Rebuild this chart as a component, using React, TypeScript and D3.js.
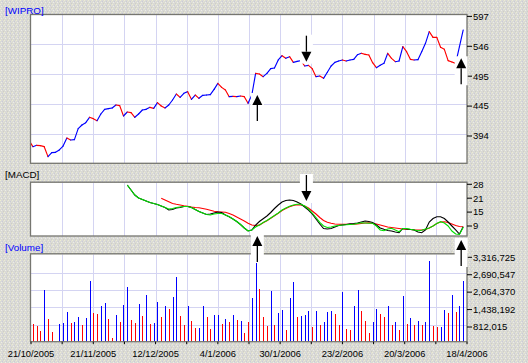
import React from "react";
import * as d3 from "d3";

// ---------- DATA ----------
// closing prices; first value is the session before the first volume bar
const closes = [
  386.1, 375.9, 378.2, 377.6, 375.9, 359.0, 365.7, 366.3, 370.3, 377.0,
  390.6, 387.2, 387.8, 406.4, 412.7, 416.6, 425.7, 423.4, 420.0, 431.3,
  439.2, 440.4, 441.5, 446.6, 445.5, 427.9, 434.7, 433.6, 425.7, 431.3,
  438.1, 439.2, 442.6, 440.9, 450.5, 444.9, 441.5, 446.6, 455.0, 465.2,
  459.6, 466.4, 469.2, 456.2, 463.5, 457.9, 463.0, 463.5, 464.1, 473.1,
  483.3, 476.5, 472.0, 460.7, 461.3, 460.7, 461.8, 460.7, 449.4, 463.5,
  500.3, 499.1, 494.6, 500.3, 508.2, 509.3, 522.9, 530.2, 525.7, 528.5,
  518.9, 520.6, 521.8, 512.7, 513.8, 508.2, 494.6, 495.7, 491.8, 502.0,
  512.7, 518.9, 521.2, 522.9, 521.2, 522.9, 524.0, 531.9, 534.2, 532.5,
  531.4, 518.4, 509.9, 513.8, 517.2, 534.2, 525.7, 520.0, 521.2, 545.5,
  537.0, 524.0, 522.9, 523.4, 537.0, 551.1, 570.9, 561.3, 561.3, 544.4,
  541.0, 521.8, 519.5, 517.2, 545.5, 573.8,
];

const volumes = [
  920000, 848000, 668000, 2142000, 1099000, 632000, 150000, 920000, 956000, 1351000,
  956000, 992000, 1171000, 884000, 1135000, 2465000, 1315000, 1279000, 1567000, 1674000,
  1099000, 417000, 1243000, 992000, 1603000, 2249000, 1064000, 956000, 1639000, 1207000,
  1962000, 920000, 956000, 1710000, 1171000, 1567000, 1459000, 1890000, 2620000, 1207000,
  884000, 1567000, 1028000, 776000, 776000, 1567000, 1171000, 740000, 1243000, 1243000,
  920000, 1099000, 992000, 1243000, 1064000, 1028000, 596000, 992000, 1854000, 3148000,
  2178000, 1171000, 848000, 2106000, 884000, 1315000, 1423000, 704000, 1854000, 2429000,
  1171000, 1207000, 1243000, 1387000, 812000, 1387000, 884000, 992000, 1351000, 1387000,
  1279000, 884000, 2070000, 740000, 704000, 1567000, 2142000, 1387000, 1028000, 596000,
  992000, 1459000, 1279000, 1171000, 1567000, 884000, 992000, 704000, 1926000, 920000,
  1135000, 884000, 1028000, 884000, 992000, 3184000, 848000, 812000, 812000, 1423000,
  1315000, 1962000, 1351000, 1567000, 2465000,
];

// session direction (close vs open) for each volume bar
const sessionDir =
  "DDDUDDDUUU" + "DUUDUUDDUU" + "DDUDUUDDUD" + "UDUUDUDUU" +
  "DDUDDUUDDU" + "UDUDUDUDDU" + "UDDDUDUUDU" + "UDUUUDUDU" +
  "UUDDUDDUUD" + "DDUUDDUDUD" + "UDUDUDUUDD" + "UUDUDUU";

const macdStart = 25; // first session with the MACD line
const macdLine = [
  27.39, 25.12, 22.85, 21.49, 20.81, 20.13, 19.45, 19.0, 18.55, 17.87,
  17.19, 16.05, 16.28, 16.96, 17.19, 17.64, 17.64, 17.19, 16.28, 15.37,
  14.69, 14.01, 14.24, 14.69, 15.15, 14.92, 13.79, 13.02, 11.97, 10.84,
  9.48, 7.89, 6.53, 6.99, 9.25, 10.84, 12.06, 13.33, 14.92, 16.73,
  18.32, 19.68, 20.36, 20.59, 20.36, 19.68, 18.77, 17.41, 16.05, 14.24,
  11.97, 9.71, 7.67, 7.44, 7.67, 8.35, 9.03, 9.25, 9.48, 9.8,
  9.93, 10.16, 10.61, 11.07, 10.84, 10.39, 9.25, 7.89, 7.3, 6.76,
  6.53, 6.08, 5.76, 7.67, 7.44, 7.21, 6.99, 6.08, 5.76, 6.99,
  10.61, 12.2, 13.02, 13.02, 12.2, 10.61, 8.8, 6.99, 5.17, 8.48,
];
const triggerLine = [
  27.39, 25.12, 22.85, 21.49, 20.81, 20.13, 19.45, 19.0, 18.55, 17.87,
  17.19, 16.51, 16.73, 17.19, 17.41, 17.64, 17.64, 17.19, 16.28, 15.37,
  14.69, 14.01, 13.79, 14.24, 14.47, 14.47, 13.79, 13.02, 11.97, 10.84,
  9.48, 7.89, 6.53, 6.99, 8.35, 9.25, 10.39, 11.29, 12.43, 13.56,
  14.69, 16.05, 16.96, 17.73, 18.32, 18.64, 18.64, 17.87, 16.51, 14.69,
  12.65, 10.48, 8.8, 8.12, 8.35, 8.8, 9.03, 9.25, 9.34, 9.48,
  9.57, 9.93, 10.25, 10.16, 10.02, 10.02, 8.8, 6.99, 6.67, 7.44,
  7.76, 6.99, 6.22, 7.67, 7.67, 7.3, 6.99, 6.67, 6.85, 7.44,
  7.89, 8.8, 9.93, 10.75, 10.16, 8.8, 6.53, 5.17, 4.95, 8.21,
];
const slowStart = 34;
const slowLine = [
  21.36, 20.59, 19.82, 19.0, 18.64, 18.32, 18.0, 17.73, 17.41, 17.19,
  17.1, 16.73, 16.37, 15.96, 15.51, 15.28, 15.15, 15.01, 14.47, 13.79,
  12.88, 11.97, 11.07, 10.07, 9.25, 9.03, 9.2, 10.25, 11.2, 12.29,
  13.42, 14.56, 15.83, 16.73, 17.5, 18.09, 18.41, 18.32, 17.87, 16.96,
  15.6, 14.24, 12.65, 11.29, 10.48, 10.02, 9.71, 9.57, 9.57, 9.57,
  9.57, 9.57, 9.71, 9.93, 10.16, 10.25, 9.93, 9.71, 9.25, 8.8,
  8.35, 8.12, 7.89, 7.67, 7.44, 7.3, 7.21, 7.08, 6.99, 6.99,
  7.21, 7.89, 8.8, 9.93, 10.61, 10.75, 10.39, 9.71, 9.03, 8.57,
  8.48,
];

const signalSessions = [58, 71, 112];
const signalTypes = ["buy", "sell", "buy"];
const signalPrices = [463.5, 520.0, 525.8];

const priceTicks = [596.8, 546.1, 495.4, 444.7, 394.0];
const macdTicks = [27.7, 21.4, 15.1, 8.8];
const volumeTicks = [3316725, 2690547, 2064370, 1438192, 812015];
const dateLabels = [
  "21/10/2005", "21/11/2005", "12/12/2005", "4/1/2006",
  "30/1/2006", "23/2/2006", "20/3/2006", "18/4/2006",
];

// ---------- LAYOUT ----------
const W = 528;
const H = 363;
const X0 = 31;
const X1 = 467;
const P = { top: 15, bottom: 163.3 };
const M = { top: 182.7, bottom: 236 };
const V = { top: 254.3, bottom: 341.7 };
const GRID_SHIFT = -2.2;
const FONT = "'Liberation Sans', Arial, sans-serif";
const BLUE = "#0000ff";
const RED = "#ff0000";
const GRID = "#d4d4f2";
const FRAME = "#767670";

const xs = d3.scaleLinear().domain([-0.5, 115]).range([X0, X1]);
const yPrice = d3.scaleLinear().domain([394, 596.8]).range([136, 16.4]);
const yMacd = d3.scaleLinear().domain([8.8, 27.7]).range([226, 184.3]);
const yVol = d3.scaleLinear().domain([812015, 3316725]).range([327, 257.3]);

const gridDomain = d3.range(15).map((i) => -0.5 + (i * 115.5) / 14);

function Arrow({ cx, tip, up }: { cx: number; tip: number; up: boolean }) {
  const s = up ? 1 : -1;
  const boxY = up ? tip - 2 : tip - 27;
  return (
    <g>
      <rect x={cx - 6.5} y={boxY} width={13} height={29} fill="#ffffff" />
      <path
        d={`M${cx},${tip} L${cx - 5},${tip + s * 10} L${cx + 5},${tip + s * 10} Z`}
        fill="#000"
      />
      <line x1={cx} x2={cx} y1={tip + s * 10} y2={tip + s * 26} stroke="#000" strokeWidth={1.3} />
    </g>
  );
}

function seriesPath(vals: number[], start: number) {
  const line = d3
    .line<number>()
    .x((_, i) => xs(start + i))
    .y((v) => yMacd(v));
  return line(vals) || "";
}

export default function App() {
  const priceSegs = closes.slice(1).map((c, i) => {
    const prev = closes[i];
    return {
      x1: xs(i - 1),
      y1: yPrice(prev),
      x2: xs(i),
      y2: yPrice(c),
      color: c > prev ? BLUE : RED,
    };
  });

  const volBottomVal = yVol.invert(V.bottom);

  return (
    <svg
      width={W}
      height={H}
      style={{ position: "absolute", left: 0, top: 0, display: "block" }}
      fontFamily={FONT}
    >
      <defs>
        <pattern id="bgtex" width={4} height={4} patternUnits="userSpaceOnUse">
          <rect width={4} height={4} fill="#d9d9d6" />
          <rect x={0} y={0} width={1} height={1} fill="#ececd2" />
          <rect x={2} y={1} width={1} height={1} fill="#cacad8" />
          <rect x={1} y={2} width={1} height={1} fill="#eeeee2" />
          <rect x={3} y={3} width={1} height={1} fill="#d0d0c2" />
          <rect x={3} y={1} width={1} height={1} fill="#e4e4d0" />
        </pattern>
        <clipPath id="clipPrice">
          <rect x={X0} y={P.top} width={X1 - X0} height={P.bottom - P.top} />
        </clipPath>
        <clipPath id="clipMacd">
          <rect x={X0} y={M.top} width={X1 - X0} height={M.bottom - M.top} />
        </clipPath>
      </defs>

      <rect width={W} height={H} fill="url(#bgtex)" />

      {/* panel backgrounds */}
      {[P, M, V].map((p, i) => (
        <rect key={i} x={X0} y={p.top} width={X1 - X0} height={p.bottom - p.top} fill="#fff" />
      ))}

      {/* vertical gridlines */}
      {gridDomain.slice(1, -1).map((d, i) =>
        [P, M, V].map((p, j) => (
          <line
            key={`vg${i}-${j}`}
            x1={Math.round(xs(d)) + 0.5}
            x2={Math.round(xs(d)) + 0.5}
            y1={p.top}
            y2={p.bottom}
            stroke={GRID}
            strokeWidth={1}
          />
        ))
      )}
      {/* horizontal gridlines */}
      {priceTicks.slice(1).map((t, i) => (
        <line
          key={`hp${i}`}
          x1={X0}
          x2={X1}
          y1={Math.round(yPrice(t) + GRID_SHIFT) + 0.5}
          y2={Math.round(yPrice(t) + GRID_SHIFT) + 0.5}
          stroke={GRID}
        />
      ))}
      {volumeTicks.slice(1).map((t, i) => (
        <line
          key={`hv${i}`}
          x1={X0}
          x2={X1}
          y1={Math.round(yVol(t) + GRID_SHIFT) + 0.5}
          y2={Math.round(yVol(t) + GRID_SHIFT) + 0.5}
          stroke={GRID}
        />
      ))}

      {/* price line */}
      <g clipPath="url(#clipPrice)">
        {priceSegs.map((s, i) => (
          <line
            key={`ps${i}`}
            x1={s.x1}
            y1={s.y1}
            x2={s.x2}
            y2={s.y2}
            stroke={s.color}
            strokeWidth={1.15}
            strokeLinecap="round"
          />
        ))}
      </g>

      {/* MACD lines */}
      <g clipPath="url(#clipMacd)" fill="none" strokeWidth={1.1}>
        <path d={seriesPath(slowLine, slowStart)} stroke={RED} />
        <path d={seriesPath(macdLine, macdStart)} stroke="#000" />
        <path d={seriesPath(triggerLine, macdStart)} stroke="#00e000" />
      </g>

      {/* volume bars */}
      {volumes.map((v, i) => {
        if (v <= volBottomVal) return null;
        const y = yVol(v);
        return (
          <rect
            key={`vb${i}`}
            x={Math.round(xs(i))}
            y={y}
            width={1}
            height={V.bottom - y}
            fill={sessionDir[i] === "U" ? BLUE : RED}
            shapeRendering="crispEdges"
          />
        );
      })}

      {/* frames */}
      {[P, M, V].map((p, i) => (
        <rect
          key={`fr${i}`}
          x={X0 - 0.5}
          y={p.top - 0.5}
          width={X1 - X0 + 0.5}
          height={p.bottom - p.top + 0.5}
          fill="none"
          stroke={FRAME}
          strokeWidth={1.3}
        />
      ))}

      {/* right axes */}
      <g fontSize={9.5} fill="#000">
        {priceTicks.map((t, i) => (
          <g key={`pt${i}`}>
            <line x1={X1} x2={X1 + 5} y1={yPrice(t)} y2={yPrice(t)} stroke="#000" />
            <text x={X1 + 6} y={yPrice(t)} dy="0.35em">
              {Math.round(t)}
            </text>
          </g>
        ))}
        {macdTicks.map((t, i) => (
          <g key={`mt${i}`}>
            <line x1={X1} x2={X1 + 5} y1={yMacd(t)} y2={yMacd(t)} stroke="#000" />
            <text x={X1 + 6} y={yMacd(t)} dy="0.35em">
              {Math.round(t)}
            </text>
          </g>
        ))}
        {volumeTicks.map((t, i) => (
          <g key={`vt${i}`}>
            <line x1={X1} x2={X1 + 5} y1={yVol(t)} y2={yVol(t)} stroke="#000" />
            <text x={X1 + 6} y={yVol(t)} dy="0.35em">
              {d3.format(",")(t)}
            </text>
          </g>
        ))}
      </g>

      {/* x axis */}
      <g fontSize={9.3} fill="#000">
        {gridDomain.map((d, i) => (
          <line
            key={`xt${i}`}
            x1={xs(d)}
            x2={xs(d)}
            y1={V.bottom}
            y2={V.bottom + 2.5}
            stroke="#000"
          />
        ))}
        {dateLabels.map((lab, i) => (
          <text key={`dl${i}`} x={xs(gridDomain[i * 2])} y={356.5} textAnchor="middle">
            {lab}
          </text>
        ))}
      </g>

      {/* panel titles */}
      <g fontSize={9.8}>
        <text x={5} y={13.5} fill={BLUE}>[WIPRO]</text>
        <text x={5} y={178} fill="#000">[MACD]</text>
        <text x={5} y={251} fill={BLUE}>[Volume]</text>
      </g>

      {/* signal arrows */}
      {signalSessions.map((k, i) => {
        const up = signalTypes[i] === "buy";
        const cx = xs(k) + 5.5;
        const hi = Math.max(macdLine[k - macdStart], triggerLine[k - macdStart]);
        const lo = Math.min(macdLine[k - macdStart], triggerLine[k - macdStart]);
        const macdTip = up ? yMacd(lo) + 6 : yMacd(hi) - 3;
        return (
          <g key={`sg${i}`}>
            <Arrow cx={cx} tip={yPrice(signalPrices[i])} up={up} />
            <Arrow cx={cx} tip={macdTip} up={up} />
          </g>
        );
      })}
    </svg>
  );
}
